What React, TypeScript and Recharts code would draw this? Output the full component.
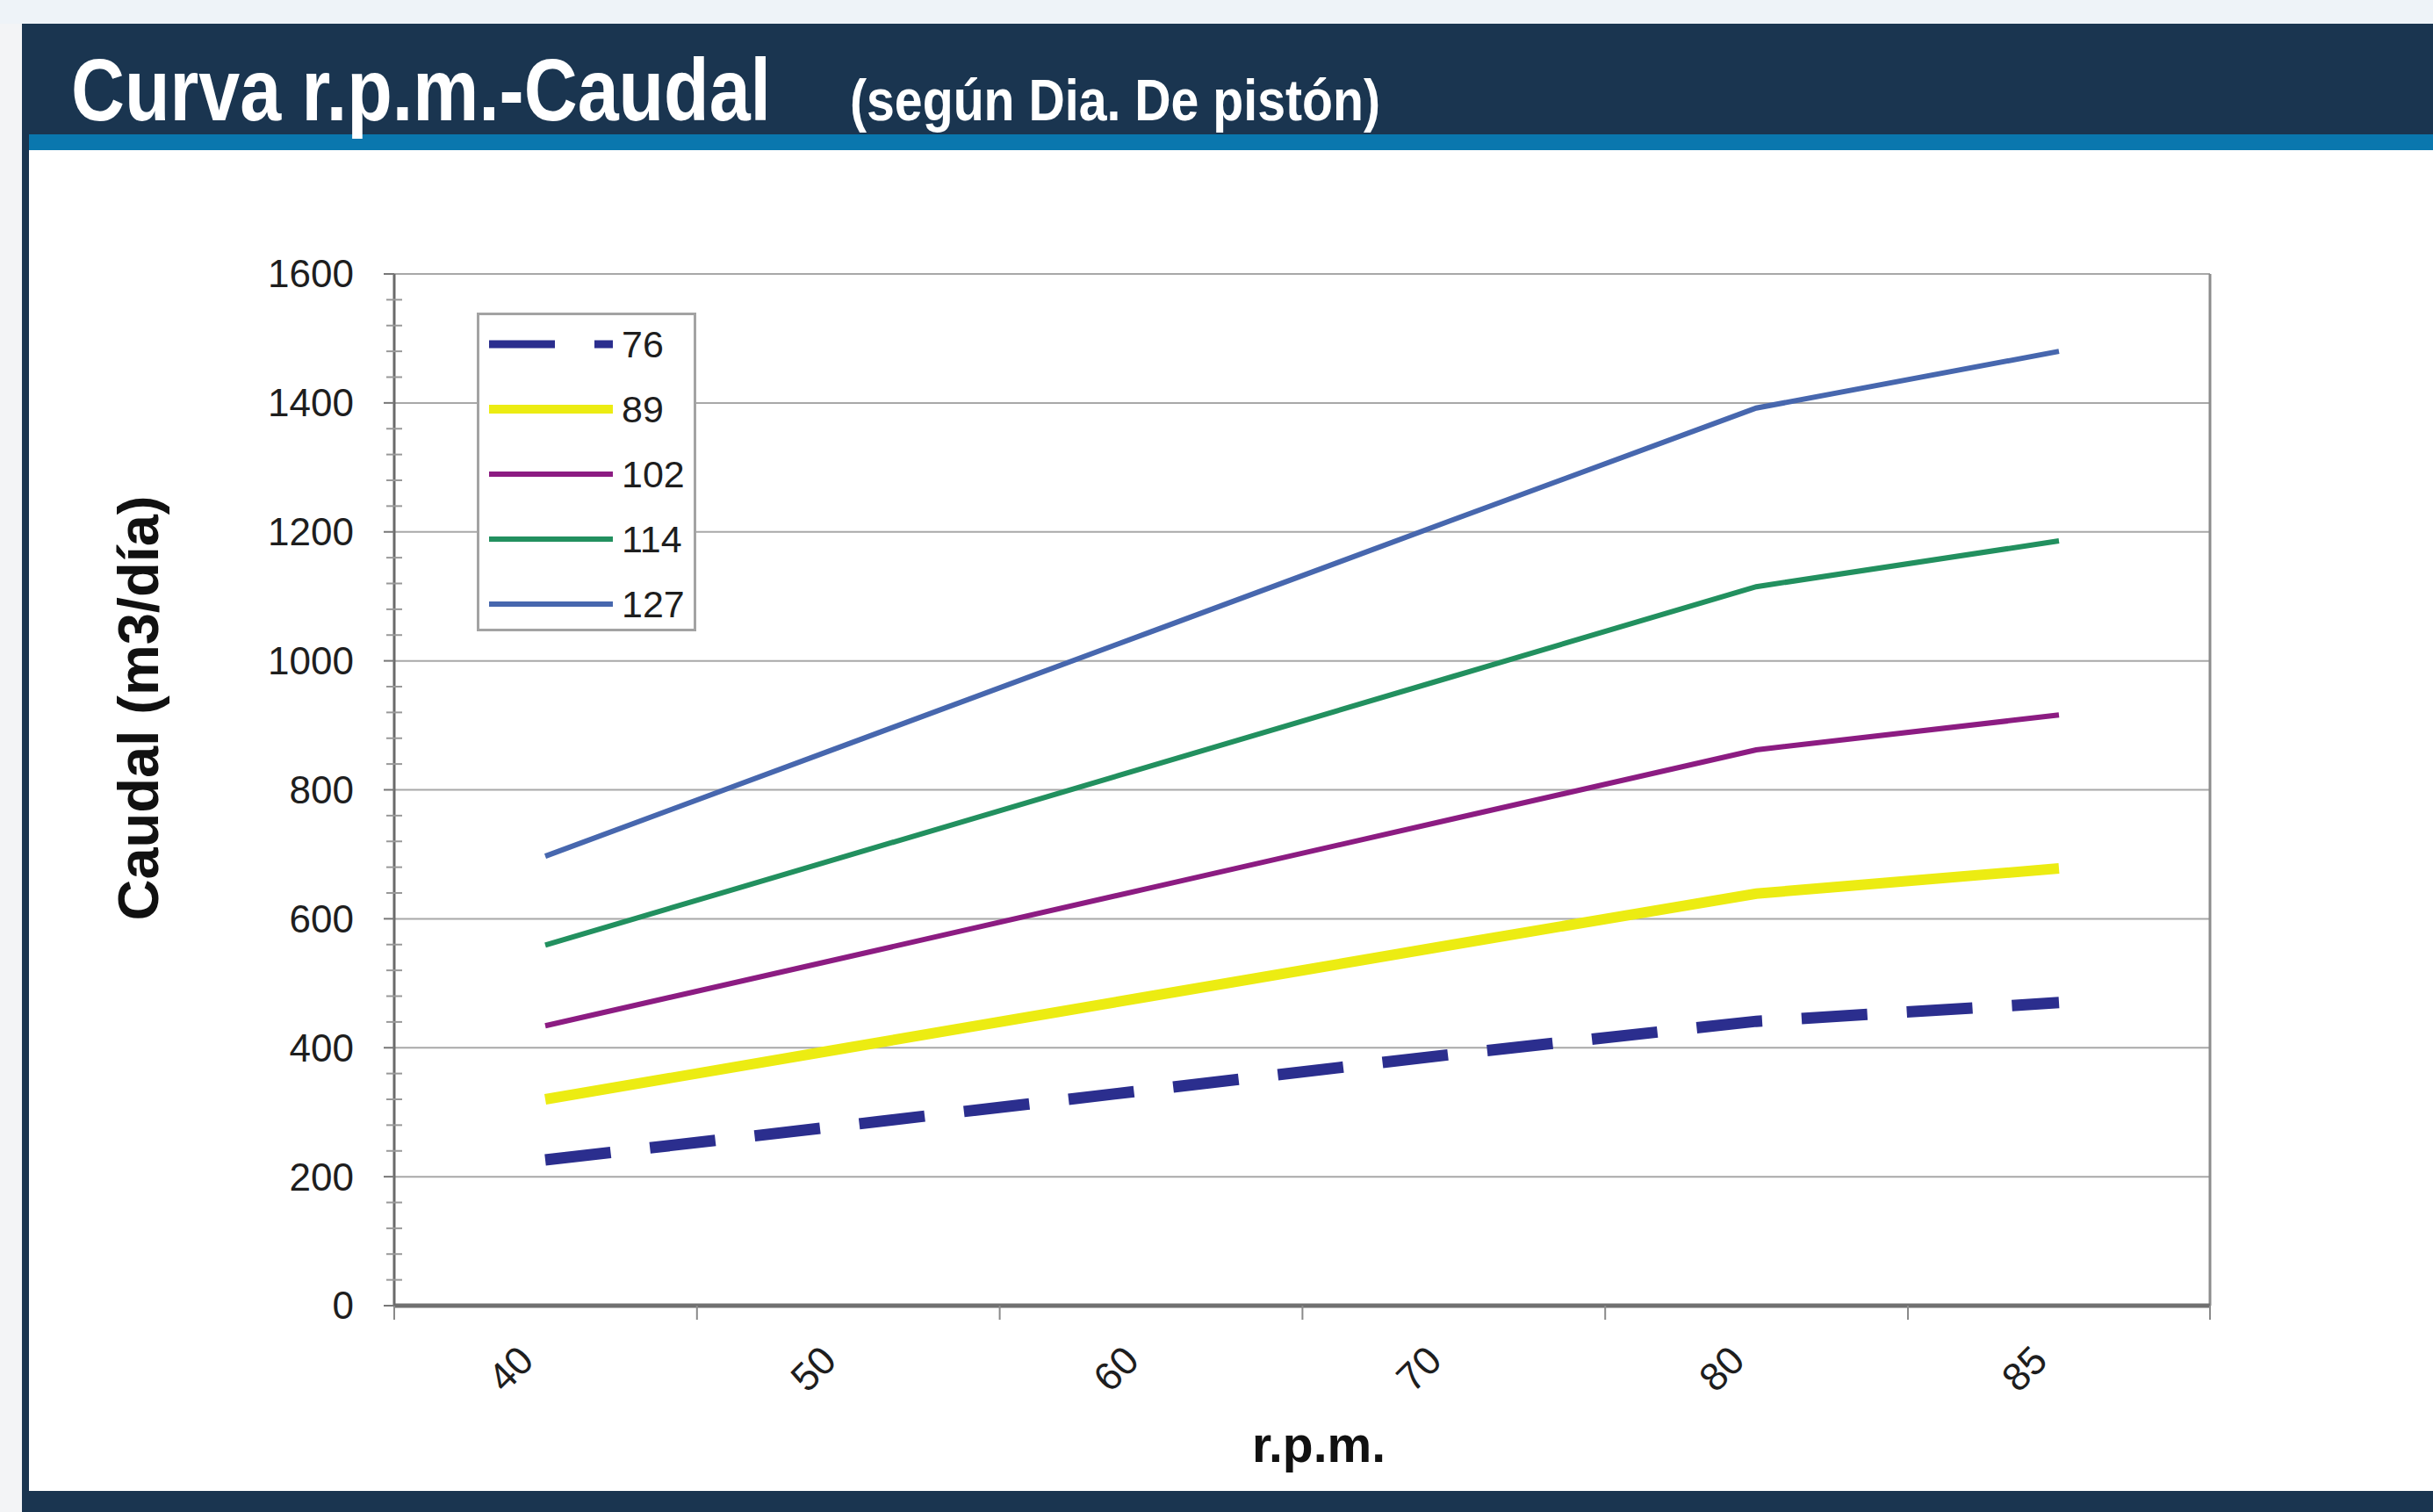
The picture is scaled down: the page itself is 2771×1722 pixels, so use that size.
import React from 'react';
import { LineChart, Line, XAxis, YAxis, CartesianGrid, Legend, Label } from 'recharts';

const rpm = ['40', '50', '60', '70', '80', '85'];
const caudal76 = [226, 280, 335, 390, 441, 470];
const caudal89 = [320, 400, 480, 560, 639, 678];
const caudal102 = [434, 541, 648, 755, 862, 916];
const caudal114 = [559, 698, 837, 976, 1115, 1186];
const caudal127 = [697, 871, 1045, 1219, 1392, 1480];
const yTicks = [0, 200, 400, 600, 800, 1000, 1200, 1400, 1600];
const yMinorTicks = Array.from({ length: 41 }, (_, i) => i * 40);

const data = rpm.map((r, i) => ({
  rpm: r,
  d76: caudal76[i],
  d89: caudal89[i],
  d102: caudal102[i],
  d114: caudal114[i],
  d127: caudal127[i],
}));

const series = [
  { key: 'd76', name: '76', color: '#2b2e8e', width: 13, legendWidth: 9, dash: '75 45' },
  { key: 'd89', name: '89', color: '#ecec12', width: 12, legendWidth: 10 },
  { key: 'd102', name: '102', color: '#8c1c82', width: 6, legendWidth: 6 },
  { key: 'd114', name: '114', color: '#22905f', width: 6, legendWidth: 6 },
  { key: 'd127', name: '127', color: '#4767ae', width: 6, legendWidth: 6 },
];

const FONT = "'Liberation Sans', Arial, sans-serif";
const W = 2771;
const H = 1722;
const HALF_BAND = 172; // half of one category slot, so points sit mid-slot like Excel

const XTick = (props: any) => {
  const { x, y, payload, index } = props;
  const lx = x - 22;
  const ly = y + 54;
  return (
    <g>
      <line x1={x - HALF_BAND} x2={x - HALF_BAND} y1={y} y2={y + 16} stroke="#8a8a8a" strokeWidth={2} />
      {index === rpm.length - 1 && (
        <line x1={x + HALF_BAND} x2={x + HALF_BAND} y1={y} y2={y + 16} stroke="#8a8a8a" strokeWidth={2} />
      )}
      <text
        x={lx}
        y={ly}
        dy="0.35em"
        textAnchor="end"
        transform={`rotate(-45, ${lx}, ${ly})`}
        fontSize={45}
        fontFamily={FONT}
        fill="#1e1e1e"
      >
        {payload.value}
      </text>
    </g>
  );
};

const YTick = (props: any) => {
  const { x, y, payload } = props;
  if (yTicks.includes(payload.value)) {
    return (
      <g>
        <line x1={x - 12} x2={x} y1={y} y2={y} stroke="#777" strokeWidth={2} />
        <text x={x - 46} y={y} dy="0.35em" textAnchor="end" fontSize={44} fontFamily={FONT} fill="#1e1e1e">
          {payload.value}
        </text>
      </g>
    );
  }
  return <line x1={x - 9} x2={x + 9} y1={y} y2={y} stroke="#999" strokeWidth={2} />;
};

const LegendBox = (props: any) => {
  const payload = [...(props.payload ?? [])].sort(
    (a: any, b: any) =>
      series.findIndex((s) => s.key === a.dataKey) - series.findIndex((s) => s.key === b.dataKey),
  );
  return (
    <svg width={250} height={363} style={{ display: 'block' }}>
      <rect x={1.5} y={1.5} width={247} height={360} fill="#fff" stroke="#a3a3a3" strokeWidth={3} />
      {payload.map((entry: any, i: number) => {
        const s = series.find((it) => it.key === entry.dataKey) ?? series[i];
        const cy = 36 + i * 74;
        return (
          <g key={s.key}>
            <line x1={14} x2={155} y1={cy} y2={cy} stroke={s.color} strokeWidth={s.legendWidth} strokeDasharray={s.dash} />
            <text x={165} y={cy} dy="0.35em" fontSize={43} fontFamily={FONT} fill="#1e1e1e">
              {entry.value}
            </text>
          </g>
        );
      })}
    </svg>
  );
};

const App = () => {
  return (
    <div style={{ position: 'absolute', left: 0, top: 0, width: W, height: H, background: '#f3f4f6', overflow: 'hidden' }}>
      <div style={{ position: 'absolute', left: 0, top: 0, width: W, height: 27, background: '#eef3f8' }} />
      <div style={{ position: 'absolute', left: 25, top: 27, right: 0, bottom: 0, background: '#1a3550' }} />
      <div style={{ position: 'absolute', left: 33, top: 153, right: 0, height: 18, background: '#0a77ae' }} />
      <div style={{ position: 'absolute', left: 33, top: 171, right: 0, bottom: 24, background: '#ffffff' }} />
      <svg width={W} height={180} style={{ position: 'absolute', left: 0, top: 0 }}>
        <text
          x={81}
          y={137}
          fontSize={100}
          fontWeight="bold"
          fill="#ffffff"
          fontFamily={FONT}
          textLength={797}
          lengthAdjust="spacingAndGlyphs"
        >
          Curva r.p.m.-Caudal
        </text>
        <text
          x={968}
          y={137}
          fontSize={66}
          fontWeight="bold"
          fill="#ffffff"
          fontFamily={FONT}
          textLength={604}
          lengthAdjust="spacingAndGlyphs"
        >
          (según Dia. De pistón)
        </text>
      </svg>
      <div style={{ position: 'absolute', left: 0, top: 0 }}>
        <LineChart width={W} height={H} data={data} margin={{ top: 312, right: 254, left: 100, bottom: 0 }}>
          <CartesianGrid vertical={false} horizontalValues={yTicks} stroke="#a8a8a8" strokeWidth={2} />
          {/* right-hand frame of the plot area */}
          <CartesianGrid
            horizontal={false}
            verticalCoordinatesGenerator={(p: any) => [p.offset.left + p.offset.width]}
            stroke="#8c8c8c"
            strokeWidth={3}
          />
          <XAxis
            dataKey="rpm"
            height={235}
            padding={{ left: HALF_BAND, right: HALF_BAND }}
            interval={0}
            tickSize={0}
            tickMargin={0}
            tickLine={false}
            tick={<XTick />}
            axisLine={{ stroke: '#707070', strokeWidth: 5 }}
          >
            <Label
              content={(p: any) => {
                const vb = p.viewBox ?? { x: 449, y: 1487, width: 2068 };
                return (
                  <text
                    x={vb.x + vb.width / 2 + 19}
                    y={vb.y + 178}
                    textAnchor="middle"
                    fontSize={57}
                    fontWeight="bold"
                    fontFamily={FONT}
                    fill="#111"
                  >
                    r.p.m.
                  </text>
                );
              }}
            />
          </XAxis>
          <YAxis
            width={349}
            type="number"
            domain={[0, 1600]}
            ticks={yMinorTicks}
            interval={0}
            tickSize={0}
            tickMargin={0}
            tickLine={false}
            tick={<YTick />}
            axisLine={{ stroke: '#6a6a6a', strokeWidth: 3 }}
          >
            <Label
              content={(p: any) => {
                const vb = p.viewBox ?? { x: 100, y: 312, height: 1175 };
                const lx = vb.x + 80;
                const ly = vb.y + vb.height / 2 - 93;
                return (
                  <text
                    x={lx}
                    y={ly}
                    textAnchor="middle"
                    transform={`rotate(-90, ${lx}, ${ly})`}
                    fontSize={65}
                    fontWeight="bold"
                    fontFamily={FONT}
                    fill="#111"
                  >
                    Caudal (m3/día)
                  </text>
                );
              }}
            />
          </YAxis>
          <Legend
            layout="vertical"
            align="center"
            verticalAlign="middle"
            content={<LegendBox />}
            wrapperStyle={{ left: 543, top: 356, width: 250, height: 363 }}
          />
          {series.map((s) => (
            <Line
              key={s.key}
              type="linear"
              dataKey={s.key}
              name={s.name}
              stroke={s.color}
              strokeWidth={s.width}
              strokeDasharray={s.dash}
              dot={false}
              activeDot={false}
              isAnimationActive={false}
            />
          ))}
        </LineChart>
      </div>
    </div>
  );
};

export default App;
